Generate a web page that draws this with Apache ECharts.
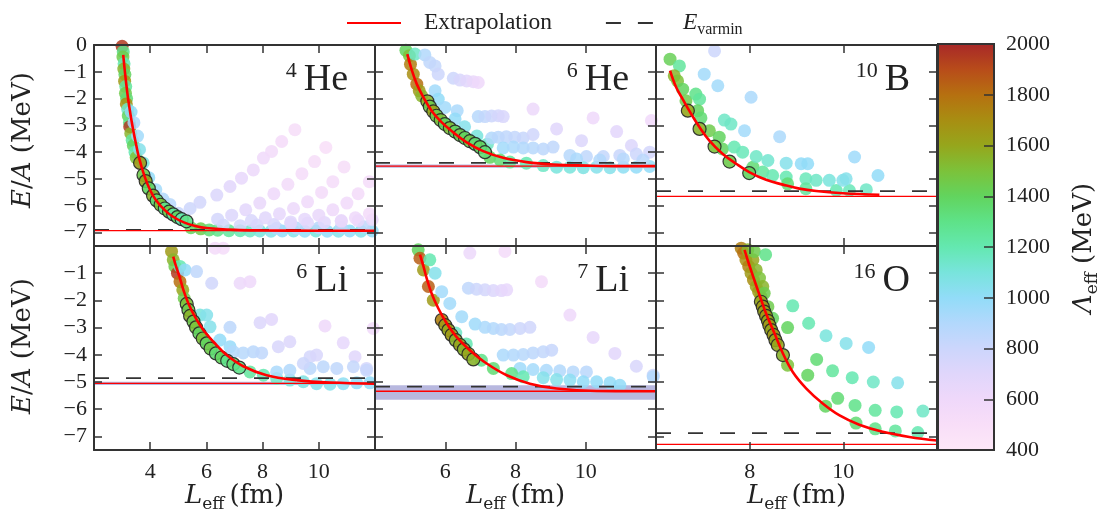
<!DOCTYPE html>
<html>
<head>
<meta charset="utf-8">
<script src="https://cdn.jsdelivr.net/npm/echarts@6.0.0/dist/echarts.min.js"></script>
<style>
  html, body { margin: 0; padding: 0; background: #ffffff; }
  #chart { width: 1102px; height: 522px; }
</style>
</head>
<body>
<div id="chart"></div>
<script>
// ---------------- colour scale for the effective UV cutoff (MeV) ----------------
const lambdaMin = 400;
const lambdaMax = 2000;
// one colour every 100 MeV, from 400 up to 2000
const lambdaColors = ['#fde8f8', '#f8def8', '#efd8fa', '#e0d6fb', '#ccd6fc', '#b2d8fc',
  '#92dcf8', '#78e4dc', '#64e8b0', '#5ee288', '#62d45e', '#7cc23a', '#96a61c',
  '#a88e12', '#b67010', '#b84c1a', '#a82828'];
const lambdaTicks = [400, 600, 800, 1000, 1200, 1400, 1600, 1800, 2000];

// ---------------- axes ----------------
const xLimits = [[2, 12], [4, 12], [6, 12]];          // per column
const xTicks = [[4, 6, 8, 10], [6, 8, 10], [8, 10]];    // per column
const yLimits = [-7.5, 0];
const yTicksTop = [-7, -6, -5, -4, -3, -2, -1, 0];
const yTicksBottom = [-7, -6, -5, -4, -3, -2, -1];

// ---------------- panel labels ----------------
const panelMass = ['4', '6', '10', '6', '7', '16'];
const panelElem = ['He', 'He', 'B', 'Li', 'Li', 'O'];

// ---------------- 4He : [L_eff (fm), E/A (MeV), Lambda_eff (MeV)] ----------------
const he4Points = [
  [3.00,-0.05,1950],[3.04,-0.25,1300],[3.03,-0.45,1450],[3.07,-0.70,1200],[3.06,-0.90,1550],
  [3.10,-1.10,1400],[3.09,-1.35,1650],[3.13,-1.55,1250],[3.12,-1.80,1450],[3.16,-2.00,1350],
  [3.15,-2.20,1700],[3.20,-2.40,1150],[3.22,-2.65,1400],[3.26,-2.90,1300],[3.27,-3.05,1950],
  [3.31,-3.30,1550],[3.36,-3.55,1250],[3.40,-3.75,1400],[3.46,-4.00,1200],[3.50,-4.20,1500],
  [3.32,-2.50,1000],[3.42,-2.90,920],[3.55,-3.40,950],[3.62,-3.90,1050],[3.75,-4.40,1100],
  [3.95,-4.95,1000],[4.20,-5.40,950],[4.45,-5.75,900],[4.70,-5.95,880],
  [5.45,-6.82,1400],[5.80,-6.86,1450],[6.10,-6.90,1350],[6.40,-6.91,1300],[6.80,-6.93,1250],
  [7.20,-6.93,1200],[7.55,-6.94,1150],[7.90,-6.94,1100],[8.30,-6.95,1050],[8.70,-6.94,1000],
  [9.10,-6.94,1050],[9.50,-6.95,1000],[9.90,-6.94,1100],[10.30,-6.95,1000],[10.70,-6.95,1050],
  [11.10,-6.94,1000],[11.50,-6.95,1050],[11.90,-6.94,1000],
  [8.50,-6.84,900],[9.20,-6.83,880],[10.00,-6.82,870],[10.80,-6.80,860],[11.60,-6.78,850],
  [6.60,-6.72,780],[7.20,-6.74,760],[7.80,-6.72,750],[8.40,-6.70,740],[9.00,-6.67,720],
  [9.60,-6.64,700],[10.20,-6.62,690],[10.80,-6.58,680],[11.40,-6.55,660],[11.90,-6.52,650],
  [4.60,-6.10,850],[5.00,-6.28,820],[5.42,-6.10,800],[5.77,-5.87,770],[6.37,-5.60,730],
  [6.84,-5.28,690],[7.25,-4.97,650],[7.67,-4.66,620],[8.03,-4.22,590],[8.32,-3.97,570],
  [8.68,-3.60,550],[9.15,-3.16,520],
  [6.40,-6.50,760],[6.90,-6.35,720],[7.40,-6.15,680],[7.90,-5.90,640],[8.40,-5.55,600],
  [8.90,-5.20,570],[9.40,-4.80,540],[9.85,-4.35,520],[10.25,-3.82,500],
  [7.60,-6.55,740],[8.10,-6.45,700],[8.60,-6.30,660],[9.10,-6.10,620],[9.60,-5.85,590],
  [10.10,-5.50,560],[10.50,-5.10,540],[10.90,-4.55,520],
  [9.00,-6.60,700],[9.50,-6.50,670],[10.00,-6.35,640],[10.50,-6.15,610],[11.00,-5.90,580],
  [11.40,-5.55,560],[11.80,-5.10,540],
  [10.80,-6.55,640],[11.30,-6.45,600],[11.80,-6.30,560]
];
const he4Fit = [
  [3.64,-4.40,1650],[3.76,-4.85,1450],[3.84,-5.08,1600],[3.95,-5.35,1400],[4.10,-5.62,1550],
  [4.23,-5.80,1350],[4.37,-5.96,1500],[4.52,-6.10,1300],[4.67,-6.22,1450],[4.82,-6.32,1250],
  [4.97,-6.42,1400],[5.12,-6.50,1200],[5.29,-6.58,1300]
];
const he4Curve = [
  [3.04,-0.37],[3.10,-1.00],[3.20,-1.90],[3.30,-2.60],[3.40,-3.20],[3.50,-3.72],[3.60,-4.20],
  [3.80,-4.90],[4.00,-5.42],[4.20,-5.78],[4.50,-6.14],[4.80,-6.40],[5.20,-6.62],[5.60,-6.75],
  [6.00,-6.83],[7.00,-6.90],[8.00,-6.92],[10.00,-6.93],[12.00,-6.93]
];
const he4Einf = -6.93;
const he4Evarmin = -6.90;
const he4Band = null;

// ---------------- 6He ----------------
const he6Points = [
  [4.88,-0.20,1400],[4.98,-0.40,1500],[5.01,-0.72,1750],[5.09,-1.09,1700],[5.19,-1.46,1800],
  [5.26,-1.71,1650],[5.33,-1.90,1550],[5.14,-0.34,1150],
  [5.42,-0.37,900],[5.56,-0.65,850],[5.71,-0.78,830],[5.80,-1.09,800],[5.71,-1.71,950],
  [5.80,-2.02,1000],[5.99,-2.33,950],[6.34,-2.45,920],[6.28,-2.76,1000],[6.55,-3.05,1050],
  [6.90,-3.40,1100],[7.20,-3.70,1150],
  [6.23,-1.24,800],[6.42,-1.31,740],[6.61,-1.34,690],[6.80,-1.37,640],[6.94,-1.40,600],
  [6.94,-2.67,880],[7.13,-2.67,840],[7.32,-2.65,800],[7.51,-2.64,760],[7.65,-2.67,740],
  [7.32,-3.47,900],[7.51,-3.44,870],[7.74,-3.42,850],[7.98,-3.44,830],[8.22,-3.47,820],
  [8.50,-3.34,780],
  [7.65,-3.84,950],[7.94,-3.81,920],[8.22,-3.84,900],[8.50,-3.84,880],[8.79,-3.88,860],
  [9.07,-3.81,850],
  [8.50,-2.39,620],[9.17,-3.13,700],[10.21,-2.72,600],[9.88,-3.57,720],[10.88,-3.23,680],
  [11.30,-3.75,720],[11.87,-2.82,580],[11.82,-4.00,760],
  [9.55,-4.12,880],[10.02,-4.16,850],[10.50,-4.16,830],[10.97,-4.12,810],[11.44,-4.07,800],
  [7.27,-4.19,1400],[7.56,-4.29,1350],[7.84,-4.37,1250],[8.31,-4.41,1200],[8.79,-4.50,1150],
  [9.17,-4.56,1100],[9.55,-4.56,1100],[9.93,-4.58,1080],[10.31,-4.56,1050],[10.69,-4.58,1050],
  [11.07,-4.56,1020],[11.44,-4.56,1000],[11.82,-4.53,1000],
  [9.74,-4.25,920],[10.40,-4.29,900],[11.07,-4.25,880],[11.63,-4.29,870]
];
const he6Fit = [
  [5.49,-2.10,1550],[5.56,-2.30,1450],[5.66,-2.48,1600],[5.75,-2.64,1450],[5.87,-2.80,1500],
  [5.99,-2.95,1400],[6.13,-3.10,1500],[6.28,-3.23,1400],[6.42,-3.36,1450],[6.56,-3.47,1400],
  [6.70,-3.59,1450],[6.85,-3.69,1350],[6.99,-3.81,1400],[7.13,-4.00,1350]
];
const he6Curve = [
  [4.92,-0.34],[5.04,-0.90],[5.19,-1.46],[5.38,-1.95],[5.61,-2.45],[5.90,-2.89],[6.23,-3.26],
  [6.61,-3.63],[7.08,-3.96],[7.65,-4.21],[8.31,-4.37],[9.07,-4.46],[10.02,-4.50],[11.00,-4.52],
  [12.00,-4.52]
];
const he6Einf = -4.52;
const he6Evarmin = -4.40;
const he6Band = [-4.58, -4.46];

// ---------------- 10B ----------------
const b10Points = [
  [6.30,-0.53,1420],[6.50,-0.78,1250],[6.39,-1.15,1550],[6.46,-1.34,1500],[6.57,-1.65,1400],
  [6.64,-2.08,1450],[6.85,-1.83,1300],[6.93,-2.02,1250],[6.89,-2.45,1400],[6.96,-2.72,1350],
  [7.14,-3.20,1450],[7.35,-3.44,1400],[7.42,-3.88,1400],[7.67,-3.81,1200],[7.85,-4.00,1180],
  [8.07,-4.56,1350],[8.28,-4.74,1250],[8.49,-4.87,1200],[8.78,-4.93,1200],[8.81,-5.18,1350],
  [9.20,-4.99,1180],[9.42,-5.05,1150],[9.70,-5.05,1100],[9.20,-5.36,1250],[9.85,-5.43,1200],
  [10.13,-5.43,1180],[10.49,-5.40,1150],[9.99,-5.05,1050],
  [7.46,-2.80,1150],[7.60,-2.95,1150],[8.14,-4.16,1150],[8.39,-4.31,1130],[8.78,-4.41,1050],
  [9.10,-4.43,1000],[9.24,-4.43,1000],[10.06,-4.99,1050],[10.74,-4.87,1000],[10.24,-4.18,960],
  [7.03,-1.09,950],[7.32,-1.52,950],[8.03,-1.95,920],[8.64,-3.42,920],[7.89,-3.20,950],
  [7.25,-0.22,800]
];
const b10Fit = [
  [6.68,-2.45,1600],[6.93,-3.13,1550],[7.25,-3.79,1500],[7.57,-4.35,1450],[7.99,-4.78,1400]
];
const b10Curve = [
  [6.30,-0.96],[6.43,-1.58],[6.57,-2.02],[6.71,-2.45],[6.93,-3.07],[7.14,-3.57],[7.42,-4.06],
  [7.71,-4.43],[7.99,-4.74],[8.35,-5.03],[8.71,-5.21],[9.06,-5.36],[9.42,-5.45],[9.99,-5.53],
  [10.77,-5.59]
];
const b10Einf = -5.65;
const b10Evarmin = -5.45;
const b10Band = null;

// ---------------- 6Li ----------------
const li6Points = [
  [4.76,-0.20,1650],[4.82,-0.51,1550],[4.88,-0.75,1450],[4.97,-1.00,1950],[5.06,-1.31,1800],
  [5.16,-1.61,1600],[5.21,-1.92,1450],[5.06,-0.75,1200],[5.24,-0.88,1000],[5.65,-0.94,850],
  [6.19,-1.37,780],[7.20,-1.37,620],[7.55,-1.31,600],[6.31,-0.08,560],[6.60,-0.08,540],
  [5.77,-2.54,1100],[6.13,-2.97,1050],[6.48,-3.46,1000],[6.84,-3.70,980],[6.01,-2.54,1050],
  [6.84,-2.99,860],[7.91,-2.82,720],[8.32,-2.70,690],[10.22,-2.94,600],[11.94,-3.03,580],
  [8.56,-3.70,740],[8.97,-3.52,720],[9.69,-4.07,760],[9.92,-4.01,740],[10.87,-3.56,660],
  [11.29,-4.07,700],[11.70,-4.50,760],
  [6.96,-3.89,900],[7.31,-3.93,880],[7.67,-3.89,870],[7.97,-3.93,850],
  [7.55,-4.63,1250],[8.03,-4.75,1200],[8.50,-4.87,1150],[8.97,-4.93,1100],[9.45,-4.99,1080],
  [9.92,-5.06,1050],[10.40,-5.08,1050],[10.87,-5.06,1020],[11.35,-5.03,1000],[11.82,-5.03,1000],
  [8.50,-4.63,920],[8.97,-4.57,900],[9.69,-4.50,870],[10.16,-4.44,860],[10.64,-4.50,850],
  [11.23,-4.44,830],[11.70,-4.57,820],[9.45,-4.32,800]
];
const li6Fit = [
  [5.30,-2.13,1500],[5.36,-2.35,1450],[5.42,-2.57,1550],[5.54,-2.78,1450],[5.63,-2.99,1500],
  [5.75,-3.21,1400],[5.87,-3.40,1500],[6.01,-3.58,1400],[6.15,-3.77,1450],[6.34,-3.95,1350],
  [6.54,-4.10,1400],[6.74,-4.22,1300],[6.96,-4.34,1350],[7.17,-4.47,1300]
];
const li6Curve = [
  [4.82,-0.39],[4.92,-0.75],[5.04,-1.12],[5.18,-1.61],[5.36,-2.11],[5.59,-2.60],[5.89,-3.09],
  [6.25,-3.52],[6.72,-4.01],[7.31,-4.42],[8.14,-4.75],[9.21,-4.93],[10.40,-5.02],[12.00,-5.06]
];
const li6Einf = -5.05;
const li6Evarmin = -4.86;
const li6Band = [-5.11, -4.99];

// ---------------- 7Li ----------------
const li7Points = [
  [5.23,-0.14,1400],[5.28,-0.45,1850],[5.38,-0.88,1650],[5.52,-1.49,1850],[5.66,-1.99,1650],
  [5.56,-0.51,1200],[5.71,-1.00,1050],[5.90,-1.68,950],[6.13,-2.11,950],[6.47,-2.60,950],
  [6.70,-0.26,620],[7.70,-0.20,560],[8.74,-1.31,560],[9.55,-2.54,600],[10.21,-3.36,650],
  [10.83,-3.95,690],[11.44,-4.42,740],[11.92,-4.75,800],
  [6.66,-1.55,850],[6.89,-1.59,800],[7.13,-1.61,760],[7.37,-1.64,720],[7.60,-1.64,680],
  [7.75,-1.61,650],
  [6.85,-2.87,960],[7.13,-2.99,920],[7.37,-3.03,900],[7.60,-3.07,870],[7.84,-3.07,840],
  [8.13,-3.03,800],[8.41,-2.99,780],
  [7.65,-4.01,920],[7.94,-4.01,900],[8.22,-3.99,880],[8.50,-3.93,860],[8.79,-3.89,840],
  [9.03,-3.83,820],
  [8.13,-4.50,960],[8.50,-4.54,940],[8.88,-4.57,920],[9.26,-4.59,900],[9.64,-4.63,880],
  [10.02,-4.63,870],
  [8.79,-4.84,1050],[9.17,-4.91,1050],[9.55,-4.93,1020],[9.93,-4.99,1000],[10.31,-4.99,1000],
  [10.69,-5.03,1000],[10.97,-5.12,1000],
  [7.03,-4.20,1300],[7.37,-4.50,1350],[7.89,-4.69,1300],[8.22,-4.81,1200],[11.92,-4.81,900],
  [6.30,-3.20,1150],[6.60,-3.60,1200]
];
const li7Fit = [
  [5.90,-2.72,1750],[6.00,-2.91,1650],[6.09,-3.09,1600],[6.18,-3.27,1650],[6.30,-3.46,1550],
  [6.42,-3.64,1600],[6.53,-3.80,1550],[6.66,-3.97,1600],[6.80,-4.17,1550]
];
const li7Curve = [
  [5.28,-0.32],[5.38,-0.75],[5.47,-1.18],[5.61,-1.74],[5.80,-2.29],[6.04,-2.84],[6.32,-3.34],
  [6.70,-3.83],[7.18,-4.32],[7.75,-4.75],[8.41,-5.06],[9.17,-5.24],[10.31,-5.33],[12.00,-5.34]
];
const li7Einf = -5.34;
const li7Evarmin = -5.17;
const li7Band = [-5.65, -5.12];

// ---------------- 16O ----------------
const o16Points = [
  [7.82,-0.08,1750],[7.87,-0.26,1800],[7.92,-0.51,1700],[7.98,-0.75,1750],[8.03,-1.00,1650],
  [8.08,-1.25,1700],[8.14,-1.49,1600],[8.19,-1.68,1650],[8.24,-1.86,1600],[7.96,-0.14,1550],
  [8.07,-0.51,1600],[8.14,-0.88,1550],[8.21,-1.18,1500],[8.28,-1.49,1550],[8.31,-1.74,1450],
  [8.10,-0.20,1450],[8.34,-0.32,1300],[8.39,-2.23,1450],[8.49,-2.66,1400],[8.81,-4.38,1500],
  [8.92,-2.20,1200],[9.26,-2.84,1200],[9.63,-3.30,1100],[10.06,-3.58,1050],[10.54,-3.73,1000],
  [8.81,-3.00,1400],[9.43,-4.17,1350],[9.77,-4.59,1250],[10.19,-4.84,1200],[10.64,-5.00,1150],
  [11.16,-5.03,1050],
  [9.24,-4.75,1400],[9.88,-5.60,1350],[10.25,-5.86,1300],[10.68,-6.04,1250],[11.14,-6.10,1200],
  [11.70,-6.07,1150],
  [9.62,-5.89,1400],[10.27,-6.51,1350],[10.68,-6.72,1300],[11.11,-6.80,1250],[11.59,-6.86,1200]
];
const o16Fit = [
  [8.24,-2.05,1600],[8.28,-2.23,1650],[8.31,-2.41,1600],[8.35,-2.57,1650],[8.39,-2.75,1600],
  [8.42,-2.91,1650],[8.46,-3.09,1600],[8.51,-3.27,1650],[8.55,-3.46,1600],[8.60,-3.64,1600],
  [8.71,-4.01,1550]
];
const o16Curve = [
  [7.89,-0.14],[7.99,-0.69],[8.10,-1.25],[8.21,-1.80],[8.35,-2.48],[8.53,-3.21],[8.71,-3.95],
  [8.92,-4.63],[9.21,-5.24],[9.56,-5.79],[9.92,-6.23],[10.34,-6.57],[10.84,-6.83],[11.41,-7.02],
  [12.00,-7.15]
];
const o16Einf = -7.29;
const o16Evarmin = -6.88;
const o16Band = null;

// ---------------- layout ----------------
const FONT = 'Liberation Serif';
const TITLE_FONT = 'DejaVu Serif';
const INK = '#222222';
const FRAME = '#333333';
const colLeft = [94, 375, 656];
const colWidth = 281;
const rowTop = [45, 246];
const rowHeight = [201, 204];

const panels = [
  { points: he4Points, fit: he4Fit, curve: he4Curve, einf: he4Einf, evar: he4Evarmin, band: he4Band },
  { points: he6Points, fit: he6Fit, curve: he6Curve, einf: he6Einf, evar: he6Evarmin, band: he6Band },
  { points: b10Points, fit: b10Fit, curve: b10Curve, einf: b10Einf, evar: b10Evarmin, band: b10Band },
  { points: li6Points, fit: li6Fit, curve: li6Curve, einf: li6Einf, evar: li6Evarmin, band: li6Band },
  { points: li7Points, fit: li7Fit, curve: li7Curve, einf: li7Einf, evar: li7Evarmin, band: li7Band },
  { points: o16Points, fit: o16Fit, curve: o16Curve, einf: o16Einf, evar: o16Evarmin, band: o16Band }
];

function signedLabel(v) {
  if (v === 0) return '0';
  return v < 0 ? '\u2212' + Math.abs(v) : String(v);
}

const grid = [], xAxis = [], yAxis = [], series = [], colouredSeries = [], graphic = [];

function frameAxis(extra) {
  return Object.assign({
    type: 'value',
    z: 10,
    splitLine: { show: false },
    axisLine: { show: true, onZero: false, lineStyle: { color: FRAME, width: 2 } }
  }, extra);
}

panels.forEach((pnl, p) => {
  const col = p % 3, row = Math.floor(p / 3);
  const xl = xLimits[col];
  const yTicks = row === 0 ? yTicksTop : yTicksBottom;
  const tick = (vals, len) => ({ show: true, inside: true, length: len, customValues: vals,
    lineStyle: { color: FRAME, width: 1.5 } });

  grid.push({ left: colLeft[col], top: rowTop[row], width: colWidth, height: rowHeight[row],
    containLabel: false, outerBoundsMode: 'none', show: false });

  xAxis.push(frameAxis({ gridIndex: p, position: 'bottom', min: xl[0], max: xl[1],
    axisTick: tick(xTicks[col], 8),
    axisLabel: { show: row === 1, customValues: xTicks[col], margin: 11,
      fontFamily: FONT, fontSize: 22, color: INK } }));
  xAxis.push(frameAxis({ gridIndex: p, position: 'top', min: xl[0], max: xl[1],
    axisTick: tick(xTicks[col], 8), axisLabel: { show: false } }));
  yAxis.push(frameAxis({ gridIndex: p, position: 'left', min: yLimits[0], max: yLimits[1],
    axisTick: tick(yTicksTop, 8),
    axisLabel: { show: col === 0, customValues: yTicks, formatter: signedLabel, margin: 7,
      fontFamily: FONT, fontSize: 22, color: INK } }));
  yAxis.push(frameAxis({ gridIndex: p, position: 'right', min: yLimits[0], max: yLimits[1],
    axisTick: tick(yTicksTop, 8), axisLabel: { show: false } }));

  const ax = { xAxisIndex: 2 * p, yAxisIndex: 2 * p };
  const across = v => [[xl[0], v], [xl[1], v]];

  if (pnl.band) {
    series.push(Object.assign({ type: 'line', name: 'band', data: across(pnl.einf), symbol: 'none',
      silent: true, z: 1, lineStyle: { width: 0, opacity: 0 },
      markArea: { silent: true, itemStyle: { color: 'rgba(160,160,212,0.75)' },
        data: [[{ yAxis: pnl.band[0] }, { yAxis: pnl.band[1] }]] } }, ax));
  }
  colouredSeries.push(series.length);
  series.push(Object.assign({ type: 'scatter', name: 'runs', data: pnl.points, symbolSize: 13,
    z: 2, silent: true, itemStyle: { opacity: 0.85 } }, ax));
  colouredSeries.push(series.length);
  series.push(Object.assign({ type: 'scatter', name: 'fit', data: pnl.fit, symbolSize: 13,
    z: 3, silent: true, itemStyle: { opacity: 0.9, borderColor: '#262626', borderWidth: 1.2 } }, ax));
  series.push(Object.assign({ type: 'line', name: 'Extrapolation', data: pnl.curve, symbol: 'none',
    smooth: 0.4, z: 6, silent: true, itemStyle: { color: '#ff0000' },
    lineStyle: { color: '#ff0000', width: 2.6 } }, ax));
  series.push(Object.assign({ type: 'line', name: 'E_varmin', data: across(pnl.evar), symbol: 'none',
    z: 4, silent: true, itemStyle: { color: FRAME },
    lineStyle: { color: FRAME, width: 1.8, type: [15, 17] } }, ax));
  series.push(Object.assign({ type: 'line', name: 'E_inf', data: across(pnl.einf), symbol: 'none',
    z: 5, silent: true, itemStyle: { color: '#ff0000' }, lineStyle: { color: '#ff0000', width: 1.3 } }, ax));

  // nucleus label, e.g. ^4He
  graphic.push({ type: 'text', z: 20, silent: true,
    x: colLeft[col] + colWidth - 27, y: rowTop[row] + 15,
    style: { text: '{s|' + panelMass[p] + '}{m|' + panelElem[p] + '}', fill: INK,
      align: 'right', verticalAlign: 'top', textAlign: 'right', textVerticalAlign: 'top',
      rich: { s: { fontFamily: FONT, fontSize: 22, lineHeight: 22, verticalAlign: 'top', padding: [0, 7, 0, 0] },
              m: { fontFamily: FONT, fontSize: 38, lineHeight: 40 } } } });
});

// ---------------- colour bar ----------------
const cb = 6;
grid.push({ left: 938, top: 44, width: 56, height: 406, containLabel: false, outerBoundsMode: 'none', show: false });
xAxis.push({ gridIndex: cb, type: 'category', data: ['Lambda'], show: false });
yAxis.push({ gridIndex: cb, type: 'value', position: 'right', min: lambdaMin, max: lambdaMax, z: 10,
  splitLine: { show: false },
  axisLine: { show: false },
  axisTick: { show: true, inside: true, length: 10, customValues: lambdaTicks, lineStyle: { color: FRAME, width: 1.5 } },
  axisLabel: { customValues: lambdaTicks, margin: 12, formatter: v => String(v),
    fontFamily: FONT, fontSize: 22, color: INK } });
yAxis.push({ gridIndex: cb, type: 'value', position: 'left', min: lambdaMin, max: lambdaMax, z: 10,
  splitLine: { show: false }, axisTick: { show: false }, axisLabel: { show: false },
  axisLine: { show: true, onZero: false, lineStyle: { color: FRAME, width: 2 } } });
const cbStops = lambdaColors.map((c, i) => ({ offset: 1 - i / (lambdaColors.length - 1), color: c })).reverse();
series.push({ type: 'bar', xAxisIndex: 12, yAxisIndex: 12, stack: 'cb', data: [lambdaMin], barWidth: '100%',
  silent: true, itemStyle: { color: 'rgba(0,0,0,0)' } });
series.push({ type: 'bar', xAxisIndex: 12, yAxisIndex: 12, stack: 'cb', data: [lambdaMax - lambdaMin], barWidth: '100%',
  silent: true, itemStyle: { color: { type: 'linear', x: 0, y: 0, x2: 0, y2: 1, colorStops: cbStops } } });
// frame around the colour bar
graphic.push({ type: 'rect', z: 30, silent: true, shape: { x: 938, y: 44, width: 56, height: 406 },
  style: { fill: 'none', stroke: FRAME, lineWidth: 2 } });

// ---------------- axis titles ----------------
const titleRich = {
  i: { fontFamily: TITLE_FONT, fontSize: 26, fontStyle: 'italic', lineHeight: 34 },
  r: { fontFamily: TITLE_FONT, fontSize: 26, lineHeight: 34 },
  s: { fontFamily: TITLE_FONT, fontSize: 17, lineHeight: 17, verticalAlign: 'bottom' }
};
[140, 346].forEach(cy => {
  graphic.push({ type: 'text', x: 23, y: cy, rotation: Math.PI / 2, silent: true,
    style: { text: '{i|E}{r|/}{i|A}{r| (MeV)}', rich: titleRich, fill: INK,
      align: 'center', verticalAlign: 'middle', textAlign: 'center', textVerticalAlign: 'middle' } });
});
colLeft.forEach(l => {
  graphic.push({ type: 'text', x: l + colWidth / 2, y: 496, silent: true,
    style: { text: '{i|L}{s|eff}{r|\u2009(fm)}', rich: titleRich, fill: INK,
      align: 'center', verticalAlign: 'middle', textAlign: 'center', textVerticalAlign: 'middle' } });
});
graphic.push({ type: 'text', x: 1084, y: 248, rotation: Math.PI / 2, silent: true,
  style: { text: '{i|\u039B}{s|eff}{r| (MeV)}', rich: titleRich, fill: INK,
    align: 'center', verticalAlign: 'middle', textAlign: 'center', textVerticalAlign: 'middle' } });

const option = {
  animation: false,
  backgroundColor: '#ffffff',
  grid, xAxis, yAxis, series, graphic,
  legend: {
    data: ['Extrapolation', 'E_varmin'],
    left: 341, top: 6, orient: 'horizontal',
    itemWidth: 54, itemHeight: 14, itemGap: 53,
    selectedMode: false,
    itemStyle: { opacity: 0 },
    formatter: name => name === 'E_varmin' ? '{i|E}{s|varmin}' : name,
    textStyle: {
      fontFamily: FONT, fontSize: 23.5, color: INK, padding: [0, 0, 0, 18],
      rich: {
        i: { fontFamily: FONT, fontSize: 23.5, fontStyle: 'italic', lineHeight: 30 },
        s: { fontFamily: FONT, fontSize: 16, lineHeight: 15, verticalAlign: 'bottom' }
      }
    }
  },
  visualMap: {
    type: 'continuous', show: false, min: lambdaMin, max: lambdaMax, dimension: 2,
    seriesIndex: colouredSeries, inRange: { color: lambdaColors }
  }
};

const chart = echarts.init(document.getElementById('chart'));
chart.setOption(option);
</script>
</body>
</html>
